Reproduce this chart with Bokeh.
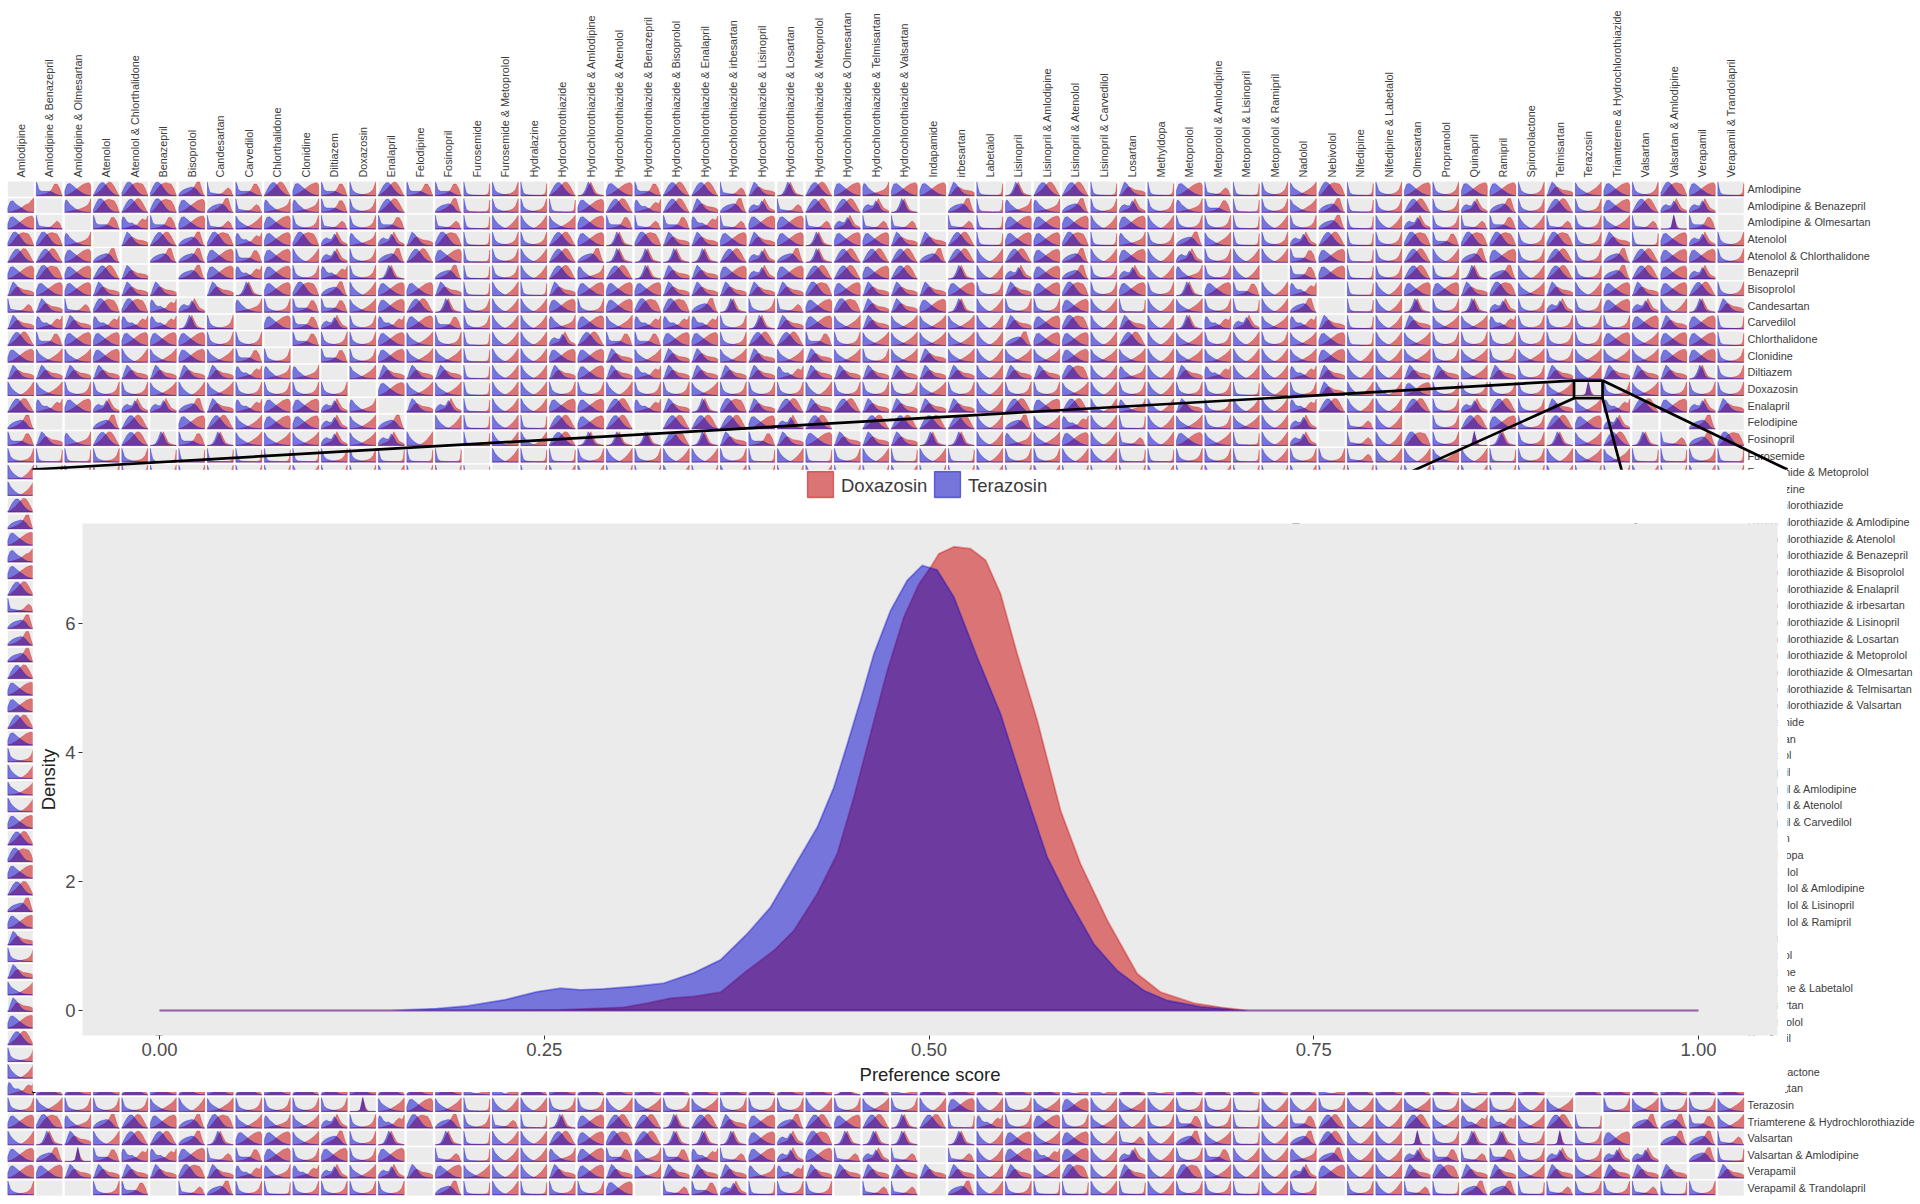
from math import pi
from bokeh.plotting import figure
from bokeh.models import Range1d, FixedTicker
from bokeh.core.properties import value
from bokeh.embed import file_html
from bokeh.resources import INLINE

drugs = ["Amlodipine","Amlodipine & Benazepril","Amlodipine & Olmesartan","Atenolol","Atenolol & Chlorthalidone","Benazepril","Bisoprolol","Candesartan","Carvedilol","Chlorthalidone","Clonidine","Diltiazem","Doxazosin","Enalapril","Felodipine","Fosinopril","Furosemide","Furosemide & Metoprolol","Hydralazine","Hydrochlorothiazide","Hydrochlorothiazide & Amlodipine","Hydrochlorothiazide & Atenolol","Hydrochlorothiazide & Benazepril","Hydrochlorothiazide & Bisoprolol","Hydrochlorothiazide & Enalapril","Hydrochlorothiazide & irbesartan","Hydrochlorothiazide & Lisinopril","Hydrochlorothiazide & Losartan","Hydrochlorothiazide & Metoprolol","Hydrochlorothiazide & Olmesartan","Hydrochlorothiazide & Telmisartan","Hydrochlorothiazide & Valsartan","Indapamide","irbesartan","Labetalol","Lisinopril","Lisinopril & Amlodipine","Lisinopril & Atenolol","Lisinopril & Carvedilol","Losartan","Methyldopa","Metoprolol","Metoprolol & Amlodipine","Metoprolol & Lisinopril","Metoprolol & Ramipril","Nadolol","Nebivolol","Nifedipine","Nifedipine & Labetalol","Olmesartan","Propranolol","Quinapril","Ramipril","Spironolactone","Telmisartan","Terazosin","Triamterene & Hydrochlorothiazide","Valsartan","Valsartan & Amlodipine","Verapamil","Verapamil & Trandolapril"]

# Main density panel
doxazosin_x = [0.0,0.15,0.2606,0.3017,0.3169,0.3321,0.3472,0.3646,0.3819,0.3992,0.4122,0.4274,0.4404,0.4512,0.462,0.4729,0.4837,0.4934,0.501,0.5064,0.5162,0.527,0.5368,0.5465,0.5573,0.5703,0.5855,0.5985,0.6158,0.6353,0.6505,0.6721,0.6895,0.7068,1.0]
doxazosin_y = [0,0,0.01,0.05,0.114,0.19,0.217,0.284,0.62,0.93,1.24,1.81,2.43,3.31,4.29,5.27,6.1,6.61,6.87,7.08,7.19,7.16,6.98,6.46,5.53,4.5,3.1,2.27,1.4,0.57,0.284,0.114,0.05,0,0]
terazosin_x = [0.0,0.15,0.18,0.2,0.225,0.245,0.2606,0.2736,0.2888,0.3082,0.3277,0.3472,0.3646,0.3819,0.397,0.4122,0.4274,0.4382,0.4469,0.4555,0.4642,0.475,0.4859,0.4956,0.5053,0.5162,0.5313,0.5465,0.5617,0.5768,0.5898,0.6071,0.6223,0.6396,0.6548,0.6765,0.6981,0.709,1.0]
terazosin_y = [0,0,0.03,0.07,0.17,0.29,0.346,0.32,0.336,0.372,0.424,0.584,0.785,1.19,1.6,2.22,2.84,3.46,4.13,4.81,5.53,6.2,6.67,6.9,6.83,6.41,5.48,4.6,3.46,2.38,1.76,1.03,0.62,0.31,0.155,0.06,0.01,0,0]

# Typical small-multiple shapes, read from the cells (height relative to a cell)
shape_x = [0,.04,.1,.2,.3,.4,.5,.6,.7,.8,.9,.96,1]
shape_blue = {
 "L":[.95,.6,.2,.08,.06,.05,.04,.03,.02,.01,.01,0,0],
 "U":[.95,.75,.4,.22,.15,.1,.08,.05,.03,.02,.01,0,0],
 "V":[.95,.85,.62,.4,.24,.12,.05,.02,.01,0,0,0,0],
 "W":[.9,.8,.6,.45,.33,.22,.14,.08,.05,.03,.01,0,0],
 "X":[.35,.55,.8,.85,.7,.55,.4,.28,.15,.08,.03,.01,0],
 "C":[.05,.15,.38,.7,.9,.9,.7,.45,.25,.1,.03,0,0],
 "A":[.05,.15,.5,.95,.8,.55,.3,.15,.07,.03,.01,0,0],
 "R":[.08,.18,.3,.42,.5,.55,.6,.55,.4,.15,.03,0,0],
 "B":[.95,.8,.42,.3,.3,.3,.3,.25,.15,.07,.03,0,0],
 "D":[.6,.85,.8,.5,.4,.42,.3,.2,.1,.05,.02,0,0],
 "N":[0,0,.02,.12,.45,.95,.7,.25,.06,.02,0,0,0],
 "S":[0,0,0,0,.02,.12,.98,.1,.02,0,0,0,0],
 "H":[.2,.35,.6,.9,.95,.8,.55,.3,.12,.05,.02,0,0],
 "T":[.95,.6,.22,.18,.15,.12,.1,.08,.05,.03,.01,0,0],
 "O":[.6,.85,.8,.55,.4,.25,.15,.1,.05,.02,0,0,0],
 "P":[.15,.3,.45,.55,.45,.45,.8,.55,.2,.08,.03,.01,0],
 "Q":[.3,.5,.75,.8,.6,.45,.35,.22,.1,.03,.01,0,0],
}
shape_red = {
 "L":[0,0,0,.01,.01,.02,.03,.03,.04,.05,.08,.25,.85],
 "U":[0,0,.01,.02,.04,.06,.08,.12,.16,.25,.45,.75,.95],
 "V":[0,0,0,0,.01,.02,.05,.14,.28,.45,.68,.85,.95],
 "W":[0,0,.01,.04,.07,.12,.2,.3,.42,.55,.72,.85,.95],
 "X":[0,.02,.06,.14,.25,.38,.52,.65,.78,.85,.9,.85,.7],
 "C":[0,.03,.1,.25,.4,.6,.8,.95,.9,.65,.3,.1,.03],
 "A":[0,.02,.08,.3,.55,.6,.5,.4,.38,.35,.3,.25,.2],
 "R":[0,.01,.04,.1,.18,.28,.4,.62,.95,.95,.35,.05,0],
 "B":[0,0,.03,.06,.1,.16,.25,.45,.8,.8,.5,.15,.02],
 "D":[0,.01,.04,.1,.15,.2,.25,.3,.55,.7,.6,.7,.9],
 "N":[0,0,.01,.05,.2,.6,.95,.55,.2,.1,.05,.02,0],
 "S":[0,0,0,0,.01,.1,.9,.3,.02,0,0,0,0],
 "H":[0,.02,.1,.3,.55,.75,.85,.9,.85,.8,.5,.2,.05],
 "T":[0,0,.01,.03,.05,.08,.12,.2,.4,.55,.4,.1,.02],
 "O":[0,.01,.03,.08,.12,.15,.2,.25,.32,.4,.55,.75,.95],
 "P":[0,.01,.05,.14,.2,.3,.55,.95,.6,.3,.2,.15,.1],
 "Q":[0,.01,.03,.08,.14,.2,.28,.42,.55,.6,.8,.9,1],
}

# One letter per cell: which shape the cell shows, "." for an empty cell
top_rows = [
 ".BXCHHRTBCXBUCBBLULCN"+"XBCCTANCXOXXALNCCLALX"+"TLUWHLUXUXXUAWXUHXL",
 "Q.OHCHXRTOOBUC.RLUULX"+"CDCARPTCCPN.RLOORUPUO"+"BLUWRLUCUPRUCUXCPP.",
 "XT.BDBXTWXUTUB.TLVVWX"+"BTBDTXXTPTT.TLXXXVXVU"+"ULVURLVPUTBVTUWTSB.",
 "HHO.ACRHDXHPOPAHLUUCX"+"NHAAXAXNXXAACLXXHLOUR"+"WLUPCLUHBHHUHUALXPU",
 "CCXR.RRXBXVPURCXLUVCR"+"NNNNCPRNCCCRCVCXRVXVP"+"UVVBXLUCVRXUCURCXXU",
 "XHXCA.RXDXUDUN.RLUVCO"+"CNAAXPXCCXC.NVPXRUPVO"+"UV.BXLUCUNRVCURCXP.",
 "AXXAAA.ANXHRVXXALVLAX"+"XXAAAAAHXAAAXUAXHUXUN"+"XBVD.LVXXAHWAVXAXCU",
 "TATHHDP.OUBBWXCNUVVXU"+"XHHRNUTXHAAXNVUUXVLVW"+"ULVR.LVNUNPUPUXPVNA",
 "ADADDDNU.XBPUDXBUVVOX"+"WDDDUNAXWAWWWVAXHVAVN"+"DPWDALVAWWDUUUUXAXL",
 "CBXXXXXUU.BUUXWULVVPC"+"BBXXUCCBUWWWWVRXXVCVW"+"UVUWXLVWUUUUUUXWXXL",
 "XWWXVWXWBU.BUXWWLVVXX"+"AWAAWAWAWUWAWVWWXWWVW"+"WVVWXVVWUWUWUWWWXXU",
 "AAAAAAAADOO.WAAALVVAX"+"ADAAAADAAAAAAVAAHVOVA"+"DVVDAVVAAWAUAVAAANU",
 "VWUUUWVWUUUU.XWWLVVUU"+"VUUWUUUVUUUWUVUUWVUVU"+"ULVUAVVXUUUUWSUWUUU",
 "CDXPPPRADXXPO.APLVVXX"+"CDANHACACAAAAVCXCVOVA"+"UVVDCVVCUPCUAWDCXPA",
 "R..RC.XCWXXPWR.VLVLCX"+"C.CCCXPC.CCCCVRWDVLVW"+"UWVP.TV.UCXUCXP..R.",
 "BAOCCNBNWWWPWPV.LVVCN"+"NNCNABAXAAANNVOWXVTVX"+"WLVP.TVHUSNUNWCNTRH",
 "ULLUULLLLLLUULLL.VLLU"+"VUVVULVLUVLVLVUUVVLLU"+"ULVUUTVVWVLUVWWLLUL",
 "VUUUUUUUUU"+"VUUVUUL."+"UVVUUVUVUU"+"VUUVUUVUVU"+"UUVUVUUVUU"+"UVUVUUVUUV"+"UVU",
]
# First column of the rows that the large panel hides (rows 18 to 54)
left_column_hidden = "VCRXQXCTRRRCXXCXUVWVXCHXCRXAUAWAXCUVD"
telmisartan_row = "DCAXCXAXCX"+"CAXCAXUVCX"+"CAXCAXCAXN"+"CUCXCXXUVC"+"UXCXXCUCXC"+"AUCX"+"."+"CXCXCX"
bottom_rows = [
 "UWUUUWVWUUUUSWXWLV"+"VUUVWUWUUUVUWUVXVUWXVWV"+"UULVVUVVWUWUVW.UWUUW",
 "XHORCXRHWOWPUDHRUT"+"LNXCCNCAXRCXCNCLDUXUWVU"+"BULVBCVVCWDDWCL.RRBW",
 "VNAVCCRNXXWRUN.NLV"+"VCXHCNNNXPHNNN.NVXWXVTV"+"RWLVRCVVSUNNUSUX.RRT",
 "XRSBDDXTBXUXUX.TLV"+"VOXBOBDTXPXTPT.TVXDXVPV"+"UBVVORVVPBTBUPUPP.RL",
 "XXAAAAHADODPWPAXWV"+"VAXAOAAAODAAAAAAVAWHVAV"+"HWVVPXVVAHAAWAWAAA.A",
 "U..UB.TRULUUUU.RLV"+"LUUX.TBPLUU.TT.RVULLVLV"+"UULVU.UVTLRRLTUUTLU.",
]
legend_labels = ["Doxazosin", "Terazosin"]
inset_ticks_x = [0, 0.25, 0.5, 0.75, 1]
inset_ticks_y = [0, 2, 4, 6]

# ---------------------------------------------------------------- page geometry
RED, BLUE = "#CC0000", "#0000CC"
PANEL = "#EBEBEB"
FONT = "Liberation Sans"
PITCH_X, PITCH_Y = 28.5, 16.65
CX0, CY0 = 20.3, 188.6          # page position of the centre of the first cell
HALF_W, HALF_H = 13.0 / PITCH_X, 7.6 / PITCH_Y
PAGE_W, PAGE_H = 1916, 1200
IN_L, IN_R, IN_T, IN_B = 32, 1787, 469, 1092  # large panel's box on the page

def col_of(px): return (px - CX0) / PITCH_X
def row_of(py): return (py - CY0) / PITCH_Y

p = figure(width=PAGE_W, height=PAGE_H, min_border=0,
           x_range=Range1d(col_of(0), col_of(PAGE_W)), y_range=Range1d(row_of(PAGE_H), row_of(0)),
           x_axis_type=None, y_axis_type=None, toolbar_location=None, tools="", output_backend="svg",
           background_fill_color="white", border_fill_color="white", outline_line_color=None)
p.xgrid.visible = False
p.ygrid.visible = False

cells = []
for r, s in enumerate(top_rows):
    cells += [(r, c, ch) for c, ch in enumerate(s)]
for i, ch in enumerate(left_column_hidden):
    cells.append((18 + i, 0, ch))
cells += [(54, c, ch) for c, ch in enumerate(telmisartan_row) if c > 0]
for i, s in enumerate(bottom_rows):
    cells += [(55 + i, c, ch) for c, ch in enumerate(s)]

p.quad(left=[c - HALF_W for r, c, ch in cells], right=[c + HALF_W for r, c, ch in cells],
       top=[r - HALF_H for r, c, ch in cells], bottom=[r + HALF_H for r, c, ch in cells],
       fill_color=PANEL, line_color=None)

def polygons(table):
    xs, ys = [], []
    for r, c, ch in cells:
        if ch == ".":
            continue
        base = r + HALF_H - 0.06
        xs.append([c - HALF_W + f * 2 * HALF_W for f in shape_x] + [c + HALF_W, c - HALF_W])
        ys.append([base - h * 0.87 for h in table[ch]] + [base, base])
    return xs, ys

for table, col in ((shape_red, RED), (shape_blue, BLUE)):
    xs, ys = polygons(table)
    p.patches(xs, ys, fill_color=col, fill_alpha=0.5, line_color=col, line_alpha=0.35, line_width=0.8)

# Drug names along the top and the right
LABEL_SIZE = "10.85px"
p.text(x=list(range(61)), y=[row_of(177)] * 61, text=drugs, angle=pi / 2, text_align="left",
       text_baseline="middle", text_font=value(FONT), text_font_size=value(LABEL_SIZE), text_color="#3c3c3c")
p.text(x=[col_of(1747)] * 61, y=list(range(61)), text=drugs, text_align="left",
       text_baseline="middle", text_font=value(FONT), text_font_size=value(LABEL_SIZE), text_color="#3c3c3c")

# Zoom box round the Doxazosin / Terazosin cell, and its lines to the large panel
zc, zr = drugs.index("Terazosin"), drugs.index("Doxazosin")
bx0, bx1 = zc - 0.5, zc + 0.5
by0, by1 = zr - 0.5, zr + 0.56
p.quad(left=[bx0], right=[bx1], top=[by0], bottom=[by1], fill_color=None, line_color="black", line_width=2.7)
p.segment(x0=[bx0, bx1, bx0, bx1], y0=[by0, by0, by1, by1],
          x1=[col_of(IN_L), col_of(IN_R), col_of(IN_L), col_of(IN_R - 1)],
          y1=[row_of(IN_T), row_of(IN_T), row_of(IN_B), row_of(IN_B)], line_color="black", line_width=2.7)
p.styles = {"position": "absolute", "left": "0px", "top": "0px"}

# ---------------------------------------------------------------- large panel
PX_PER_X, PX_ZERO = 1539.0, 159.0
PY_PER_Y, PY_ZERO = 64.5, 1010.0
P_L, P_R, P_T, P_B = 82, 1777, 523, 1035
inset = figure(width=IN_R - IN_L, height=IN_B - IN_T,
               min_border_left=P_L - IN_L, min_border_right=IN_R - P_R,
               min_border_top=P_T - IN_T, min_border_bottom=IN_B - P_B,
               x_range=Range1d((P_L - PX_ZERO) / PX_PER_X, (P_R - PX_ZERO) / PX_PER_X),
               y_range=Range1d((PY_ZERO - P_B) / PY_PER_Y, (PY_ZERO - P_T) / PY_PER_Y),
               toolbar_location=None, tools="", output_backend="svg",
               background_fill_color=PANEL, border_fill_color="white", outline_line_color=None)
inset.xgrid.visible = False
inset.ygrid.visible = False
inset.patch(doxazosin_x, doxazosin_y, fill_color=RED, fill_alpha=0.5, line_color=RED, line_alpha=0.35, line_width=1.8)
inset.patch(terazosin_x, terazosin_y, fill_color=BLUE, fill_alpha=0.5, line_color=BLUE, line_alpha=0.35, line_width=1.8)

inset.xaxis.ticker = FixedTicker(ticks=inset_ticks_x)
inset.xaxis.major_label_overrides = {0: "0.00", 0.25: "0.25", 0.5: "0.50", 0.75: "0.75", 1: "1.00"}
inset.yaxis.ticker = FixedTicker(ticks=inset_ticks_y)
inset.xaxis.axis_label = "Preference score"
inset.yaxis.axis_label = "Density"
for ax in (inset.xaxis[0], inset.yaxis[0]):
    ax.axis_line_color = None
    ax.minor_tick_line_color = None
    ax.major_tick_line_color = "#333333"
    ax.major_tick_in = 0
    ax.major_tick_out = 4
    ax.major_label_text_font = FONT
    ax.major_label_text_font_size = "18.5px"
    ax.major_label_text_color = "#4d4d4d"
    ax.axis_label_text_font = FONT
    ax.axis_label_text_font_size = "18.5px"
    ax.axis_label_text_font_style = "normal"
    ax.axis_label_text_color = "#222222"
inset.xaxis.major_label_standoff = 3
inset.xaxis.axis_label_standoff = 5
inset.yaxis.major_label_standoff = 3
inset.yaxis.axis_label_standoff = 3
inset.styles = {"position": "absolute", "left": f"{IN_L}px", "top": f"{IN_T}px"}

# ---------------------------------------------------------------- legend strip above the large panel
LG_L, LG_T, LG_W, LG_H = 800, 470, 260, 30
lg = figure(width=LG_W, height=LG_H, min_border=0, x_range=Range1d(LG_L, LG_L + LG_W),
            y_range=Range1d(LG_T + LG_H, LG_T), x_axis_type=None, y_axis_type=None,
            toolbar_location=None, tools="", output_backend="svg",
            background_fill_color="white", border_fill_color="white", outline_line_color=None)
lg.xgrid.visible = False
lg.ygrid.visible = False
key_left = [807, 934]
lg.quad(left=key_left, right=[k + 26 for k in key_left], top=[471, 471], bottom=[497, 497],
        fill_color=PANEL, line_color=None)
lg.quad(left=key_left, right=[k + 26 for k in key_left], top=[471, 471], bottom=[497, 497],
        fill_color=[RED, BLUE], fill_alpha=0.5, line_color=[RED, BLUE], line_alpha=0.5, line_width=1.3)
lg.text(x=[k + 33.5 for k in key_left], y=[484.5, 484.5], text=legend_labels, text_align="left",
        text_baseline="middle", text_font=value(FONT), text_font_size=value("18.5px"), text_color="#3a3a3a")
lg.styles = {"position": "absolute", "left": f"{LG_L}px", "top": f"{LG_T}px"}

open("out.html", "w").write(file_html([p, inset, lg], INLINE))
